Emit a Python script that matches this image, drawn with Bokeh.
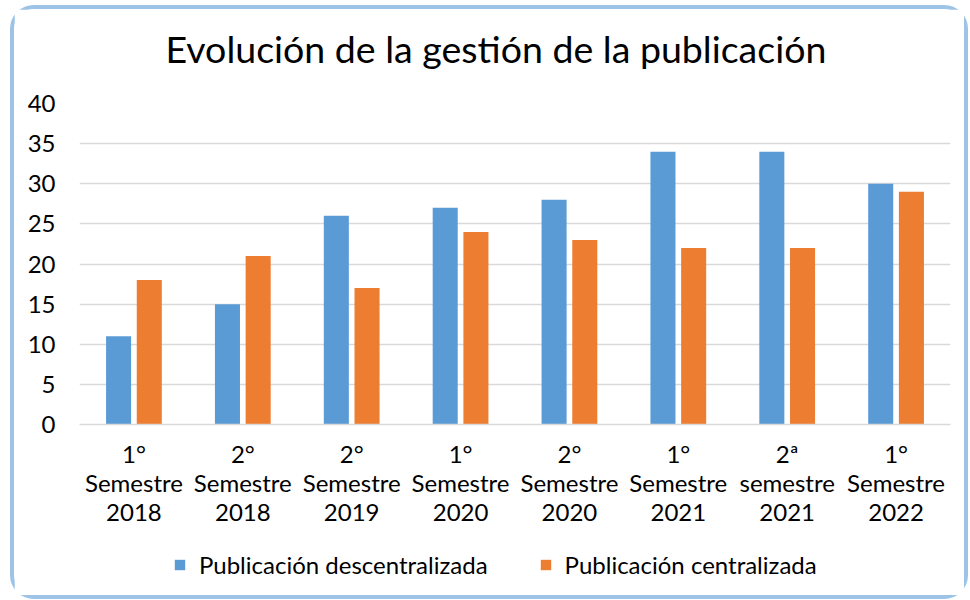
from bokeh.plotting import figure
from bokeh.layouts import column
from bokeh.models import (ColumnDataSource, FactorRange, Legend, LegendItem, Range1d, FixedTicker,
                          Title)
from bokeh.transform import dodge
from bokeh.embed import file_html
from bokeh.resources import INLINE

categories = ["1°\nSemestre\n2018", "2°\nSemestre\n2018", "2°\nSemestre\n2019", "1°\nSemestre\n2020",
              "2°\nSemestre\n2020", "1°\nSemestre\n2021", "2ª\nsemestre\n2021", "1°\nSemestre\n2022"]
descentralizada = [11, 15, 26, 27, 28, 34, 34, 30]
centralizada = [18, 21, 17, 24, 23, 22, 22, 29]
y_ticks = [0, 5, 10, 15, 20, 25, 30, 35, 40]
series_names = ["Publicación descentralizada", "Publicación centralizada"]
series_colors = ["#5B9BD5", "#ED7D31"]

FONT = "Lato"
W = 950

src = ColumnDataSource(dict(cat=categories, d=descentralizada, c=centralizada))

p = figure(x_range=FactorRange(factors=categories, range_padding=0), y_range=Range1d(0, 40),
           width=W, height=525, output_backend="svg", toolbar_location=None,
           title="Evolución de la gestión de la publicación")

p.title.text_font = FONT
p.title.text_font_size = "37.5px"
p.title.text_font_style = "normal"
p.title.text_color = "#000000"
p.title.align = "left"
p.title.offset = 86
p.title.standoff = 10

# spacer between the title and the plot area
p.add_layout(Title(text=" ", text_font_size="1px", standoff=25), "above")

p.vbar(x=dodge("cat", -0.141, range=p.x_range), top="d", width=0.23, source=src,
       color=series_colors[0], line_color=None)
p.vbar(x=dodge("cat", 0.141, range=p.x_range), top="c", width=0.23, source=src,
       color=series_colors[1], line_color=None)

p.min_border_left = 65
p.min_border_right = 14
p.min_border_top = 94
p.min_border_bottom = 110

p.outline_line_color = None
p.xgrid.grid_line_color = None
p.ygrid.grid_line_color = "#D9D9D9"
p.ygrid.grid_line_width = 1.5

p.yaxis.ticker = FixedTicker(ticks=y_ticks)
p.yaxis.axis_line_color = None
p.yaxis.major_tick_line_color = None
p.yaxis.minor_tick_line_color = None
p.yaxis.major_tick_out = 0
p.yaxis.major_label_standoff = 24
p.yaxis.major_label_text_font = FONT
p.yaxis.major_label_text_font_size = "24px"
p.yaxis.major_label_text_color = "#000000"

p.xaxis.axis_line_color = "#D9D9D9"
p.xaxis.axis_line_width = 1.5
p.xaxis.major_tick_line_color = None
p.xaxis.minor_tick_line_color = None
p.xaxis.major_tick_out = 0
p.xaxis.major_tick_in = 0
p.xaxis.major_label_standoff = 14
p.xaxis.major_label_text_font = FONT
p.xaxis.major_label_text_font_size = "24px"
p.xaxis.major_label_text_color = "#000000"
p.xaxis.major_label_text_line_height = 1.0

# legend strip below the chart (its own renderers are hidden; only the legend shows)
q = figure(width=W, height=61, output_backend="svg", toolbar_location=None,
           x_range=FactorRange(factors=categories, range_padding=0), y_range=Range1d(-2, -1),
           x_axis_location=None, y_axis_location=None, min_border=0)
q.outline_line_color = None
q.xgrid.grid_line_color = None
q.ygrid.grid_line_color = None
lr1 = q.vbar(x=dodge("cat", -0.141, range=q.x_range), top="d", width=0.23, source=src,
             color=series_colors[0], line_color=None)
lr2 = q.vbar(x=dodge("cat", 0.141, range=q.x_range), top="c", width=0.23, source=src,
             color=series_colors[1], line_color=None)
lr1.visible = False
lr2.visible = False

legend = Legend(items=[LegendItem(label=series_names[0], renderers=[lr1]),
                       LegendItem(label=series_names[1], renderers=[lr2])],
                orientation="horizontal", location=(94, 16))
legend.label_text_font = FONT
legend.label_text_font_size = "24px"
legend.label_text_color = "#000000"
legend.glyph_width = 13
legend.glyph_height = 13
legend.label_standoff = 13
legend.spacing = 51
legend.border_line_color = None
legend.background_fill_alpha = 0
legend.inactive_fill_alpha = 0
legend.margin = 0
legend.padding = 0
q.add_layout(legend)

layout = column(p, q, spacing=0)
layout.margin = (5, 0, 0, 10)
layout.styles = {"border": "4px solid #9DC3E6", "border-radius": "24px", "background": "#FFFFFF"}

open("out.html", "w").write(file_html(layout, INLINE))
